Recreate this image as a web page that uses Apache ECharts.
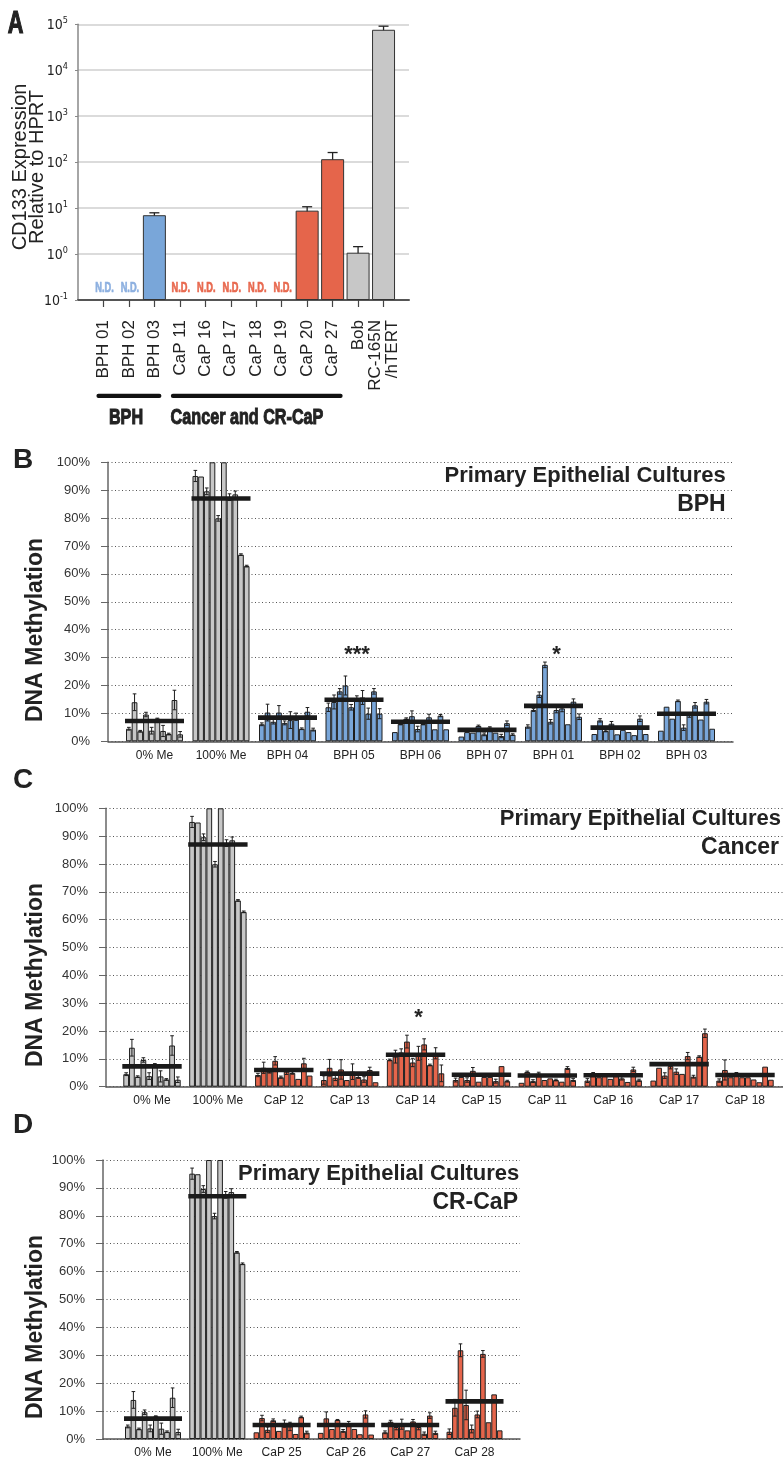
<!DOCTYPE html>
<html><head><meta charset="utf-8">
<script src="https://cdn.jsdelivr.net/npm/echarts@6/dist/echarts.min.js"></script>
<style>html,body{margin:0;padding:0;background:#fff}#c{width:783px;height:1461px}</style>
</head><body><div id="c"></div>
<script>
const FONT = "'Liberation Sans', Arial, Helvetica, sans-serif";
const NARROW = "'DejaVu Sans Condensed', 'Liberation Sans Narrow', sans-serif";
const COLORS = { bph: '#79a6d9', cap: '#e5654b', ctl: '#c7c7c7' };
const ND_COLORS = { bph: '#8db0e0', cap: '#e8694f' };

// ---------- Panel A ----------
const catsA = ['BPH 01','BPH 02','BPH 03','CaP 11','CaP 16','CaP 17','CaP 18','CaP 19','CaP 20','CaP 27','Bob','RC-165N\n/hTERT'];
const kindA = ['bph','bph','bph','cap','cap','cap','cap','cap','cap','cap','ctl','ctl'];
const valsA = [null, null, 7.0, null, null, null, null, null, 8.8, 116, 1.07, 76000];
const errA  = [0, 0, 0.9, 0, 0, 0, 0, 0, 1.9, 46, 0.38, 15000];
const ticksA = [0.1, 1, 10, 100, 1000, 10000, 100000];
const ndY = 0.18;

// ---------- Panels B-D ----------
const pctTicks = [0,10,20,30,40,50,60,70,80,90,100];
const me0 = [4.5,14.0,3.6,9.6,3.8,8.1,3.7,2.6,14.8,2.5];
const me0Err = [0.5,3.0,0.3,0.8,1.2,0.2,2.0,0.3,3.5,1.0];
const me100 = [95.1,94.9,89.6,100,79.9,100,87.5,88.5,66.9,62.8];
const me100Err = [2.0,0,1.2,0,1.0,0,1.2,1.2,0.3,0.3];

const groupsB = ['0% Me','100% Me','BPH 04','BPH 05','BPH 06','BPH 07','BPH 01','BPH 02','BPH 03'];
const valuesB = [me0, me100,
  [6.1,10.3,7.0,10.3,6.6,7.6,8.8,4.5,10.6,4.2],
  [12.2,14.1,17.9,20.0,12.2,15.5,15.7,9.9,17.9,9.9],
  [3.3,6.2,8.1,9.0,4.4,6.2,8.6,4.3,9.2,4.3],
  [1.7,3.3,3.1,5.5,2.5,4.9,3.1,1.9,6.5,2.4],
  [5.3,11.2,16.7,27.4,7.0,11.2,11.8,6.1,14.2,8.8],
  [2.6,7.5,3.7,6.3,2.5,4.1,3.3,2.2,8.1,2.6],
  [3.8,12.4,8.1,14.5,4.9,9.4,12.9,7.8,14.2,4.5]];
const errorsB = [me0Err, me100Err,
  [0.5,3.0,0.8,2.5,0.7,3.0,1.3,0.3,1.5,0.5],
  [1.5,2.5,1.0,3.4,1.0,0.8,2.5,2.0,1.0,1.8],
  [0,0.3,0.3,1.9,1.0,0.3,1.1,0,0.4,0],
  [0,0,0,0.3,0.5,0.3,0,0.6,0.8,0.3],
  [0.6,0.5,1.0,1.0,0.8,1.0,1.2,0,1.0,1.0],
  [0,0.6,0.3,0.8,0,0,0,0,1.0,0],
  [0,0,0,0.3,1.0,0.8,1.0,0,0.8,0]];
const meansB = [7.3, 87.0, 8.5, 14.9, 7.0, 4.1, 12.7, 4.9, 9.9];
const kindsB = ['ctl','ctl','bph','bph','bph','bph','bph','bph','bph'];
const starGroupsB = ['BPH 05','BPH 01'];
const starYB = [31, 31];
const starTextB = ['***','*'];

const groupsC = ['0% Me','100% Me','CaP 12','CaP 13','CaP 14','CaP 15','CaP 11','CaP 16','CaP 17','CaP 18'];
const valuesC = [me0, me100,
  [4.2,6.8,5.4,9.3,3.4,5.4,4.9,2.8,8.4,4.0],
  [2.4,6.8,3.2,6.2,2.4,5.4,3.5,2.6,6.0,1.6],
  [9.6,10.8,12.3,16.2,8.7,12.0,15.2,7.8,12.0,4.8],
  [2.4,3.5,2.4,5.7,1.8,3.5,3.5,2.0,7.4,2.0],
  [1.4,5.3,2.0,4.7,2.4,3.0,2.4,1.8,6.7,2.4],
  [2.2,4.8,3.4,4.7,2.8,4.7,3.0,1.7,6.2,2.3],
  [2.2,6.8,4.0,7.4,5.4,4.6,11.0,3.6,10.8,19.2],
  [2.2,6.0,3.4,4.8,3.4,3.4,2.6,1.6,7.2,2.5]];
const errorsC = [me0Err, me100Err,
  [0.6,2.0,0.5,1.5,0.4,1.0,0.4,0,1.8,0],
  [1.5,3.0,1.0,3.5,0,2.8,0.5,1.0,1.0,0],
  [0.3,2.3,1.3,2.3,1.5,2.5,2.0,0.3,2.0,3.0],
  [0.7,0,0.8,1.2,0,0,0,0.7,0,0.3],
  [0,0.3,0.5,0.5,0,0,0.3,0,0.5,0.5],
  [0.7,0.3,0,0,0,0,0.6,0,0.8,0.4],
  [0,0,1.0,1.0,1.0,0,1.3,0.5,0.3,1.5],
  [0.6,3.6,0,0.3,0,0,0,0,0,0]];
const meansC = [7.3, 87.0, 6.0, 4.7, 11.5, 4.3, 4.0, 4.1, 8.1, 4.2];
const kindsC = ['ctl','ctl','cap','cap','cap','cap','cap','cap','cap','cap'];
const starGroupsC = ['CaP 14'];
const starYC = [24.7];
const starTextC = ['*'];

const groupsD = ['0% Me','100% Me','CaP 25','CaP 26','CaP 27','CaP 28'];
const valuesD = [me0, me100,
  [2.4,7.5,3.3,6.7,2.9,5.5,4.5,1.8,7.9,2.3],
  [2.2,7.4,3.6,6.8,2.9,5.7,3.6,1.7,8.8,1.6],
  [2.4,6.2,4.3,5.3,3.1,6.3,4.3,1.9,8.4,2.2],
  [2.6,11.2,31.8,12.2,3.6,8.8,30.5,6.0,16.0,3.1]];
const errorsD = [me0Err, me100Err,
  [0,1.0,1.0,0.5,0,1.3,1.5,0,0.3,0.5],
  [0,2.3,0,0.2,0.5,0.6,0,0,1.3,0],
  [0.5,0.5,1.0,1.8,0,0.7,1.0,0.6,1.0,0.6],
  [1.0,3.0,2.3,5.3,1.4,1.2,1.2,0,0,0]];
const meansD = [7.3, 87.0, 5.0, 5.0, 5.0, 13.5];
const kindsD = ['ctl','ctl','cap','cap','cap','cap'];

// ---------- build ----------
const grid = [], xAxis = [], yAxis = [], series = [];

// Panel A
const catsAxis = [' ', ...catsA, '  '];
grid.push({left: 78, top: 24.3, width: 331, height: 275.7});
xAxis.push({gridIndex: 0, type: 'category', data: catsAxis, boundaryGap: false,
  axisLine: {lineStyle: {color: '#555', width: 2}},
  axisTick: {length: 7, interval: (i, v) => v.trim() !== '', lineStyle: {color: '#444', width: 1.2}},
  axisLabel: {interval: 0, rotate: 90, margin: 20, fontSize: 17, color: '#222', fontFamily: FONT, lineHeight: 17}});
yAxis.push({gridIndex: 0, type: 'log', logBase: 10, min: ticksA[0], max: ticksA[ticksA.length-1], startValue: ticksA[0],
  axisLine: {show: true, lineStyle: {color: '#888', width: 1.5}},
  axisTick: {show: true, length: 3, lineStyle: {color: '#888'}},
  splitLine: {show: true, lineStyle: {color: '#cfcfcf', width: 1.5}},
  axisLabel: {margin: 10, formatter: v => '{b|10}{s|' + Math.round(Math.log10(v)) + '}',
    rich: {b: {fontSize: 14, fontFamily: NARROW, color: '#222', lineHeight: 16, verticalAlign: 'bottom'},
           s: {fontSize: 9, fontFamily: NARROW, color: '#222', lineHeight: 10, verticalAlign: 'top'}}}});
series.push({type: 'bar', xAxisIndex: 0, yAxisIndex: 0, barWidth: 23, animation: false,
  data: catsAxis.map((c, i) => {
    const k = i - 1; const v = (k >= 0 && k < valsA.length) ? valsA[k] : null;
    return v == null ? '-' : {value: v, itemStyle: {color: COLORS[kindA[k]]}};
  }),
  itemStyle: {borderColor: '#333', borderWidth: 1}});
series.push({type: 'custom', xAxisIndex: 0, yAxisIndex: 0, animation: false, encode: {x: 0, y: 1},
  data: valsA.map((v, k) => v == null || !errA[k] ? null : [k + 1, v, errA[k]]).filter(d => d),
  renderItem: (params, api) => {
    const i = api.value(0), v = api.value(1), e = api.value(2);
    const t = api.coord([i, v + e]), b = api.coord([i, v - e]);
    const x = t[0], hw = 5, st = {stroke: '#222', lineWidth: 1.3};
    return {type: 'group', children: [
      {type: 'line', shape: {x1: x, y1: t[1], x2: x, y2: b[1]}, style: st},
      {type: 'line', shape: {x1: x - hw, y1: t[1], x2: x + hw, y2: t[1]}, style: st},
      {type: 'line', shape: {x1: x - hw, y1: b[1], x2: x + hw, y2: b[1]}, style: st}]};
  }});
series.push({type: 'custom', xAxisIndex: 0, yAxisIndex: 0, animation: false, encode: {x: 0, y: 1},
  data: valsA.map((v, k) => v == null ? [k + 1, ndY] : null).filter(d => d),
  renderItem: (params, api) => {
    const p = api.coord([api.value(0), api.value(1)]);
    const k = api.value(0) - 1;
    const col = ND_COLORS[kindA[k]];
    return {type: 'text', x: p[0] + 1, y: p[1], scaleX: 0.66, style: {text: 'N.D.', fill: col, stroke: col, lineWidth: 0.7,
      font: 'bold 14px ' + FONT, textAlign: 'center', textVerticalAlign: 'middle', align: 'center', verticalAlign: 'middle'}};
  }});

function addPanel(p) {
  const go = grid.length;
  grid.push({left: p.left, top: p.top, width: p.width, height: p.height});
  grid.push({left: p.innerLeft, top: p.top, width: p.innerWidth, height: p.height});
  const gi = go + 1;
  const xo = xAxis.length, xi = xo + 1, yo = yAxis.length, yi = yo + 1;
  xAxis.push({gridIndex: go, type: 'value', min: 0, max: 1,
    axisLine: {show: true, onZero: false, lineStyle: {color: '#555', width: 1.5}},
    axisTick: {show: false}, axisLabel: {show: false}, splitLine: {show: false}});
  xAxis.push({gridIndex: gi, type: 'category', data: p.groups,
    axisLine: {show: false}, axisTick: {show: false},
    axisLabel: {interval: 0, margin: 8, fontSize: 12, color: '#222', fontFamily: FONT}});
  yAxis.push({gridIndex: go, type: 'value', min: pctTicks[0], max: pctTicks[pctTicks.length-1],
    interval: pctTicks[1] - pctTicks[0],
    axisLine: {show: true, lineStyle: {color: '#666', width: 1.5}},
    axisTick: {show: true, length: 7, lineStyle: {color: '#666'}},
    axisLabel: {formatter: '{value}%', margin: 18, fontSize: 13, color: '#333', fontFamily: FONT},
    splitLine: {show: true, lineStyle: {color: '#555', width: 1, type: [1, 2.5]}}});
  yAxis.push({gridIndex: gi, type: 'value', min: 0, max: 100, show: false});
  const gap = p.gap;
  for (let s = 0; s < 10; s++) {
    series.push({type: 'bar', xAxisIndex: xi, yAxisIndex: yi, animation: false,
      barGap: '0%', barCategoryGap: (gap * 100) + '%',
      itemStyle: {borderColor: '#1e1e1e', borderWidth: 1},
      data: p.groups.map((g, k) => ({value: p.values[k][s], itemStyle: {color: COLORS[p.kinds[k]]}}))});
  }
  const errData = [];
  p.groups.forEach((g, k) => p.values[k].forEach((v, s) => { if (p.errors[k][s] > 0) errData.push([k, s, v, p.errors[k][s]]); }));
  series.push({type: 'custom', xAxisIndex: xi, yAxisIndex: yi, animation: false, encode: {x: 0, y: 2}, z: 4,
    data: errData,
    renderItem: (params, api) => {
      const k = api.value(0), s = api.value(1), v = api.value(2), e = api.value(3);
      const c = api.coord([k, v]);
      const bw = api.size([1, 0])[0] * (1 - gap) / 10;
      const x = c[0] + (s - 4.5) * bw;
      const yt = api.coord([k, v + e])[1], yb = api.coord([k, Math.max(0, v - e)])[1];
      const hw = bw * 0.32, st = {stroke: '#1e1e1e', lineWidth: 1};
      return {type: 'group', children: [
        {type: 'line', shape: {x1: x, y1: yt, x2: x, y2: yb}, style: st},
        {type: 'line', shape: {x1: x - hw, y1: yt, x2: x + hw, y2: yt}, style: st},
        {type: 'line', shape: {x1: x - hw, y1: yb, x2: x + hw, y2: yb}, style: st}]};
    }});
  series.push({type: 'custom', xAxisIndex: xi, yAxisIndex: yi, animation: false, encode: {x: 0, y: 1}, z: 5,
    data: p.means.map((m, k) => [k, m]),
    renderItem: (params, api) => {
      const c = api.coord([api.value(0), api.value(1)]);
      const half = api.size([1, 0])[0] * (1 - gap) / 2 + 1;
      return {type: 'rect', shape: {x: c[0] - half, y: c[1] - 2.3, width: 2 * half, height: 4.6}, style: {fill: '#1a1a1a'}};
    }});
  if (p.starGroups) {
    series.push({type: 'custom', xAxisIndex: xi, yAxisIndex: yi, animation: false, encode: {x: 0, y: 1}, z: 5,
      data: p.starGroups.map((g, j) => [p.groups.indexOf(g), p.starY[j]]),
      renderItem: (params, api) => {
        const c = api.coord([api.value(0), api.value(1)]);
        return {type: 'text', x: c[0] + 3, y: c[1], style: {text: p.starText[params.dataIndex], fill: '#222',
          font: 'bold 22px ' + FONT, textAlign: 'center', textVerticalAlign: 'middle', align: 'center', verticalAlign: 'middle'}};
      }});
  }
}

addPanel({left: 108, top: 462.3, width: 625, height: 279, innerLeft: 121.25, innerWidth: 598.5, gap: 9.5 / 66.5,
  groups: groupsB, values: valuesB, errors: errorsB, means: meansB, kinds: kindsB,
  starGroups: starGroupsB, starY: starYB, starText: starTextB});
addPanel({left: 106, top: 808.3, width: 677, height: 278.4, innerLeft: 119.05, innerWidth: 658.9, gap: 8.5 / 65.89,
  groups: groupsC, values: valuesC, errors: errorsC, means: meansC, kinds: kindsC,
  starGroups: starGroupsC, starY: starYC, starText: starTextC});
addPanel({left: 103, top: 1160, width: 417, height: 279, innerLeft: 120.85, innerWidth: 385.8, gap: 8.3 / 64.3,
  groups: groupsD, values: valuesD, errors: errorsD, means: meansD, kinds: kindsD});

const chart = echarts.init(document.getElementById('c'), null, {renderer: 'canvas'});
chart.setOption({animation: false, backgroundColor: '#fff', textStyle: {fontFamily: FONT}, grid, xAxis, yAxis, series});

function txt(x, y, text, font, opts) {
  opts = opts || {};
  const align = opts.align || 'center';
  const fill = opts.fill || '#222';
  const style = {text, font, fill, textAlign: align, align: align,
      textVerticalAlign: 'middle', verticalAlign: 'middle', lineHeight: opts.lh};
  if (opts.sw) { style.stroke = fill; style.lineWidth = opts.sw; }
  return {type: 'text', x, y, rotation: opts.rot || 0, scaleX: opts.sx || 1, z: 10, silent: true, style};
}
const px = name => chart.convertToPixel({xAxisIndex: 0}, name);
const bx1 = px('BPH 01') - 7, bx2 = px('BPH 03') + 7;
const cx1 = px('CaP 11') - 9, cx2 = px('CaP 27') + 10;
const graphic = [
  txt(15.5, 24, 'A', 'bold 31px ' + FONT, {sx: 0.7, sw: 1.2}),
  txt(28.5, 167, 'CD133 Expression\nRelative to HPRT', '20px ' + FONT, {rot: Math.PI / 2, lh: 17}),
  {type: 'rect', shape: {x: bx1, y: 393.7, width: bx2 - bx1, height: 4.2, r: 2}, style: {fill: '#111'}},
  {type: 'rect', shape: {x: cx1, y: 393.7, width: cx2 - cx1, height: 4.2, r: 2}, style: {fill: '#111'}},
  txt(126, 418, 'BPH', 'bold 22px ' + FONT, {sx: 0.735, sw: 1}),
  txt(247, 418, 'Cancer and CR-CaP', 'bold 22px ' + FONT, {sx: 0.735, sw: 1}),
  txt(23, 460, 'B', 'bold 28px ' + FONT),
  txt(23, 780, 'C', 'bold 28px ' + FONT),
  txt(23, 1125, 'D', 'bold 28px ' + FONT),
  txt(36, 630, 'DNA Methylation', 'bold 23px ' + FONT, {rot: Math.PI / 2}),
  txt(36, 975, 'DNA Methylation', 'bold 23px ' + FONT, {rot: Math.PI / 2}),
  txt(36, 1327, 'DNA Methylation', 'bold 23px ' + FONT, {rot: Math.PI / 2}),
  txt(725.7, 476.3, 'Primary Epithelial Cultures', 'bold 22px ' + FONT, {align: 'right'}),
  txt(725.7, 505, 'BPH', 'bold 23px ' + FONT, {align: 'right'}),
  txt(781, 819, 'Primary Epithelial Cultures', 'bold 22px ' + FONT, {align: 'right'}),
  txt(779, 848, 'Cancer', 'bold 23px ' + FONT, {align: 'right'}),
  txt(519.3, 1174, 'Primary Epithelial Cultures', 'bold 22px ' + FONT, {align: 'right'}),
  txt(518, 1202.5, 'CR-CaP', 'bold 23px ' + FONT, {align: 'right'})
];
chart.setOption({graphic});
</script></body></html>
